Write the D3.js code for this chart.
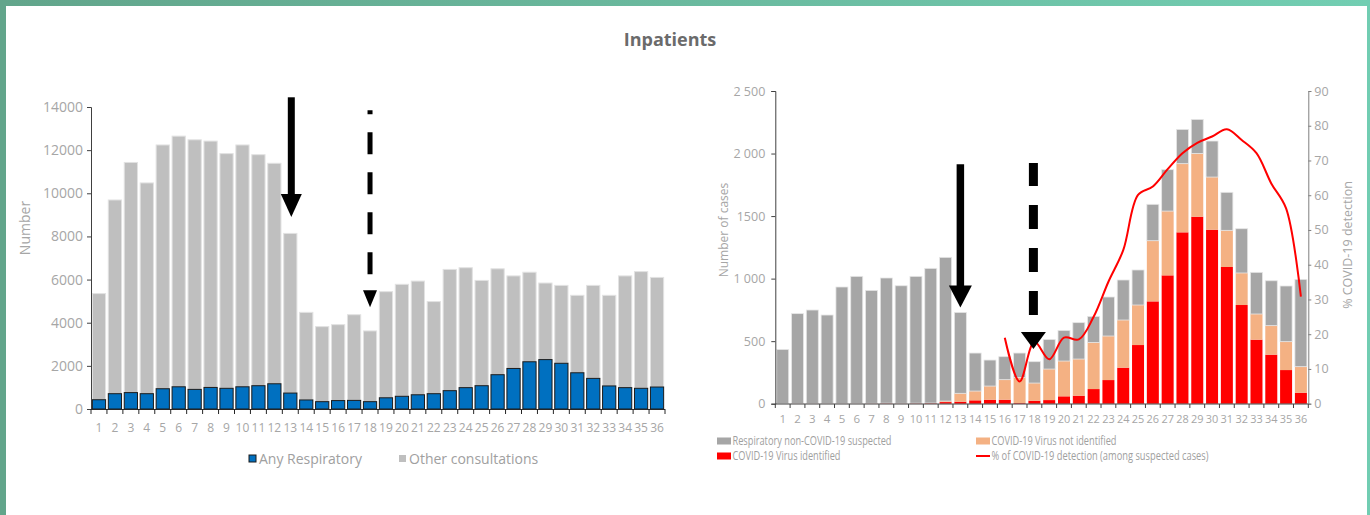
<!DOCTYPE html>
<html>
<head>
<meta charset="utf-8">
<script src="https://cdn.jsdelivr.net/npm/d3@7"></script>
<style>
  body { margin: 0; background: #fff; }
  svg { display: block; font-family: "Open Sans", sans-serif; }
</style>
</head>
<body>
<svg id="chart"></svg>
<script>
// ---- data ----
var weeks = ["1","2","3","4","5","6","7","8","9","10","11","12","13","14","15","16","17","18",
             "19","20","21","22","23","24","25","26","27","28","29","30","31","32","33","34","35","36"];

// left chart: inpatients
var anyResp = [430,710,760,710,940,1030,910,1000,960,1030,1080,1170,740,420,340,390,400,340,
               520,590,660,710,850,990,1080,1590,1880,2190,2290,2120,1680,1420,1070,990,960,1020];
var otherCons = [4920,8980,10670,9770,11300,11620,11570,11420,10880,11210,10710,10220,7400,4060,3480,3520,3970,3280,
                 4920,5190,5270,4270,5620,5560,4880,4910,4290,4150,3550,3610,3590,4310,4200,5180,5410,5080];
var yTicksLeft = [0,2000,4000,6000,8000,10000,12000,14000];

// right chart: suspected cases
var covidIdentified = [0,2,2,2,2,2,3,4,3,4,5,13,16,27,32,32,5,24,
                       29,59,64,117,189,288,469,818,1026,1370,1495,1391,1093,789,512,392,269,88];
var covidNotIdentified = [0,0,0,0,0,0,0,0,0,0,0,8,67,74,109,160,205,141,
                          248,282,293,373,352,381,320,485,514,549,506,421,293,256,205,232,227,208];
var respNonCovid = [434,718,747,707,931,1016,903,1001,940,1014,1077,1149,647,304,208,184,195,171,
                    237,245,291,208,312,320,280,291,331,274,272,288,304,354,333,359,445,698];
var pctWeeks = ["16","17","18","19","20","21","22","23","24","25","26","27","28","29","30","31","32","33","34","35","36"];
var pctDetection = [19.0,6.4,17.8,12.8,19.0,18.5,25.0,35.1,44.2,60.1,62.5,67.5,72.1,75.1,76.9,79.0,75.9,72.1,63.4,56.2,30.8];
var yTicksRight = [0,500,1000,1500,2000,2500];
var yTickLabelsRight = ["0","500","1 000","1500","2 000","2 500"];
var pctTicks = [0,10,20,30,40,50,60,70,80,90];

// arrows (week, start value, tip value)
var arrowsLeft = [{week:"13", from:14450, to:8900, dashed:false}, {week:"18", from:13850, to:4720, dashed:true}];
var arrowsRight = [{week:"13", from:1915, to:770, dashed:false}, {week:"18", from:1925, to:437, dashed:true}];

var svg = d3.select("#chart").attr("width", 1370).attr("height", 515);

// frame
var defs = svg.append("defs");
var grad = defs.append("linearGradient").attr("id", "band");
grad.append("stop").attr("offset", "0%").attr("stop-color", "#62a58b");
grad.append("stop").attr("offset", "100%").attr("stop-color", "#72ceb2");
svg.append("rect").attr("x", 0).attr("y", 0).attr("width", 1370).attr("height", 515).attr("fill", "#fff");
svg.append("rect").attr("x", 0).attr("y", 0).attr("width", 1370).attr("height", 6).attr("fill", "url(#band)");
svg.append("rect").attr("x", 0).attr("y", 0).attr("width", 6).attr("height", 515).attr("fill", "#62a58b");
svg.append("rect").attr("x", 1367).attr("y", 0).attr("width", 3).attr("height", 515).attr("fill", "#71cdb2");

svg.append("text").attr("x", 670).attr("y", 46).attr("text-anchor", "middle")
  .attr("font-size", 18).attr("font-weight", 700).attr("fill", "#6b6b6b").text("Inpatients");

function drawArrow(g, x, yTop, yTip, o) {
  var headTop = yTip - o.headH;
  if (o.dashed) {
    g.append("line").attr("x1", x).attr("x2", x).attr("y1", headTop - o.gap).attr("y2", yTop)
      .attr("stroke", "#000").attr("stroke-width", o.shaft).attr("stroke-dasharray", o.dash);
  } else {
    g.append("line").attr("x1", x).attr("x2", x).attr("y1", yTop).attr("y2", headTop + 1)
      .attr("stroke", "#000").attr("stroke-width", o.shaft);
  }
  g.append("path").attr("d", "M" + (x - o.headW / 2) + "," + headTop + "L" + (x + o.headW / 2) + "," + headTop + "L" + x + "," + yTip + "Z")
    .attr("fill", "#000");
}

function styleAxis(g, color, textColor, size) {
  g.select(".domain").attr("stroke", color);
  g.selectAll(".tick line").attr("stroke", color);
  g.selectAll(".tick text").attr("fill", textColor).attr("font-size", size).attr("font-family", "Open Sans, sans-serif");
}

// ================= left chart =================
var xL = d3.scaleBand().domain(weeks).range([91, 665]).paddingInner(0.17).paddingOuter(0.085);
var yL = d3.scaleLinear().domain([0, 14000]).range([409, 107]);

var rowsL = weeks.map(function (w, i) { return {week: w, resp: anyResp[i], other: otherCons[i]}; });
var stackL = d3.stack().keys(["resp", "other"])(rowsL);
var colorsL = {resp: "#0070c0", other: "#bfbfbf"};
var strokeL = {resp: "#1a1a1a", other: "#e2e2e2"};

var gL = svg.append("g");
// draw gray first then blue on top
[stackL[1], stackL[0]].forEach(function (layer) {
  gL.append("g").selectAll("rect").data(layer).enter().append("rect")
    .attr("x", function (d) { return xL(d.data.week); })
    .attr("width", xL.bandwidth())
    .attr("y", function (d) { return yL(d[1]); })
    .attr("height", function (d) { return yL(d[0]) - yL(d[1]); })
    .attr("fill", colorsL[layer.key])
    .attr("stroke", strokeL[layer.key]).attr("stroke-width", 1);
});

var axL = gL.append("g").attr("transform", "translate(91,0)")
  .call(d3.axisLeft(yL).tickValues(yTicksLeft).tickSize(4).tickPadding(4).tickFormat(d3.format("d")));
styleAxis(axL, "#404040", "#a6a6a6", 14);

// x axis
gL.append("line").attr("x1", 91).attr("x2", 665).attr("y1", 409.5).attr("y2", 409.5).attr("stroke", "#262626");
gL.append("g").selectAll("line").data(d3.range(weeks.length + 1)).enter().append("line")
  .attr("x1", function (i) { return 91 + i * xL.step(); })
  .attr("x2", function (i) { return 91 + i * xL.step(); })
  .attr("y1", 409).attr("y2", 414).attr("stroke", "#262626");
gL.append("g").selectAll("text").data(weeks).enter().append("text")
  .attr("x", function (d) { return xL(d) + xL.bandwidth() / 2; })
  .attr("y", 432).attr("text-anchor", "middle").attr("font-size", 12).attr("fill", "#a6a6a6")
  .text(function (d) { return d; });

gL.append("text").attr("transform", "translate(30,228) rotate(-90)").attr("text-anchor", "middle")
  .attr("font-size", 14).attr("fill", "#a6a6a6").text("Number");

arrowsLeft.forEach(function (a) {
  var x = xL(a.week) + xL.bandwidth() / 2 + 1;
  if (a.dashed) drawArrow(gL, x - 1, yL(a.from), yL(a.to), {shaft: 5, headW: 14, headH: 17, dashed: true, gap: 16, dash: "22 18"});
  else drawArrow(gL, x, yL(a.from), yL(a.to), {shaft: 7, headW: 21, headH: 23});
});

// legend left
var legL = [{label: "Any Respiratory", color: "#0070c0", stroke: "#1a1a1a", x: 249},
            {label: "Other consultations", color: "#bfbfbf", stroke: "none", x: 399}];
legL.forEach(function (l) {
  gL.append("rect").attr("x", l.x).attr("y", 455).attr("width", 7).attr("height", 7)
    .attr("fill", l.color).attr("stroke", l.stroke);
  gL.append("text").attr("x", l.x + 10).attr("y", 464).attr("font-size", 14).attr("fill", "#a0a0a0").text(l.label);
});

// ================= right chart =================
var xR = d3.scaleBand().domain(weeks).range([775.3, 1308.3]).paddingInner(0.19).paddingOuter(0.095);
var yR = d3.scaleLinear().domain([0, 2500]).range([403.7, 91]);
var yP = d3.scaleLinear().domain([0, 90]).range([403.7, 91]);

var rowsR = weeks.map(function (w, i) {
  return {week: w, ident: covidIdentified[i], notIdent: covidNotIdentified[i], nonCovid: respNonCovid[i]};
});
var stackR = d3.stack().keys(["ident", "notIdent", "nonCovid"])(rowsR);
var colorsR = {ident: "#ff0000", notIdent: "#f4b183", nonCovid: "#a6a6a6"};

var gR = svg.append("g");
stackR.forEach(function (layer) {
  gR.append("g").selectAll("rect").data(layer).enter().append("rect")
    .attr("x", function (d) { return xR(d.data.week); })
    .attr("width", xR.bandwidth())
    .attr("y", function (d) { return yR(d[1]); })
    .attr("height", function (d) { return Math.max(0, yR(d[0]) - yR(d[1])); })
    .attr("fill", colorsR[layer.key])
    .attr("stroke", layer.key == "nonCovid" ? "#e6e6e6" : "none").attr("stroke-width", 0.8);
});

var axR1 = gR.append("g").attr("transform", "translate(775.3,0)")
  .call(d3.axisLeft(yR).tickValues(yTicksRight).tickSize(4).tickPadding(6)
    .tickFormat(function (d, i) { return yTickLabelsRight[i]; }));
styleAxis(axR1, "#404040", "#a6a6a6", 12.5);

var axR2 = gR.append("g").attr("transform", "translate(1308.3,0)")
  .call(d3.axisRight(yP).tickValues(pctTicks).tickSize(3).tickPadding(3));
styleAxis(axR2, "#7f7f7f", "#a6a6a6", 12.5);

gR.append("line").attr("x1", 775.3).attr("x2", 1308.3).attr("y1", 404).attr("y2", 404).attr("stroke", "#404040");
gR.append("g").selectAll("line").data(d3.range(weeks.length + 1)).enter().append("line")
  .attr("x1", function (i) { return 775.3 + i * xR.step(); })
  .attr("x2", function (i) { return 775.3 + i * xR.step(); })
  .attr("y1", 404).attr("y2", 408).attr("stroke", "#404040");
gR.append("g").selectAll("text").data(weeks).enter().append("text")
  .attr("x", function (d) { return xR(d) + xR.bandwidth() / 2; })
  .attr("y", 423).attr("text-anchor", "middle").attr("font-size", 11.5).attr("fill", "#a6a6a6")
  .attr("textLength", function (d) { return d.length > 1 ? 12.5 : null; })
  .attr("lengthAdjust", "spacingAndGlyphs")
  .text(function (d) { return d; });

var line = d3.line()
  .x(function (d, i) { return xR(pctWeeks[i]) + xR.bandwidth() / 2; })
  .y(function (d) { return yP(d); })
  .curve(d3.curveCatmullRom.alpha(0.5));
gR.append("path").datum(pctDetection).attr("d", line)
  .attr("fill", "none").attr("stroke", "#ff0000").attr("stroke-width", 2);

arrowsRight.forEach(function (a) {
  var x = xR(a.week) + xR.bandwidth() / 2;
  if (a.dashed) drawArrow(gR, x - 1, yR(a.from), yR(a.to), {shaft: 9, headW: 25, headH: 17, dashed: true, gap: 17, dash: "24 19"});
  else drawArrow(gR, x, yR(a.from), yR(a.to), {shaft: 7.5, headW: 23, headH: 22});
});

gR.append("text").attr("transform", "translate(728,230) rotate(-90)").attr("text-anchor", "middle")
  .attr("font-size", 12).attr("fill", "#a6a6a6").text("Number of cases");
gR.append("text").attr("transform", "translate(1352,245) rotate(-90)").attr("text-anchor", "middle")
  .attr("font-size", 12.5).attr("fill", "#a6a6a6").text("% COVID-19 detection");

// legend right
var legR = [{label: "Respiratory non-COVID-19 suspected", color: "#a6a6a6", x: 717, y: 441, w: 159, type: "rect"},
            {label: "COVID-19 Virus not identified", color: "#f4b183", x: 976, y: 441, w: 125, type: "rect"},
            {label: "COVID-19 Virus identified", color: "#ff0000", x: 717, y: 456, w: 108, type: "rect"},
            {label: "% of COVID-19 detection (among suspected cases)", color: "#ff0000", x: 976, y: 456, w: 217, type: "line"}];
legR.forEach(function (l) {
  if (l.type == "rect") {
    gR.append("rect").attr("x", l.x).attr("y", l.y - 3.5).attr("width", 14).attr("height", 7).attr("fill", l.color);
  } else {
    gR.append("line").attr("x1", l.x).attr("x2", l.x + 14).attr("y1", l.y).attr("y2", l.y)
      .attr("stroke", l.color).attr("stroke-width", 2);
  }
  gR.append("text").attr("x", l.x + 15.5).attr("y", l.y + 4).attr("font-size", 12.5).attr("fill", "#a0a0a0")
    .attr("textLength", l.w).attr("lengthAdjust", "spacingAndGlyphs").text(l.label);
});
</script>
</body>
</html>
